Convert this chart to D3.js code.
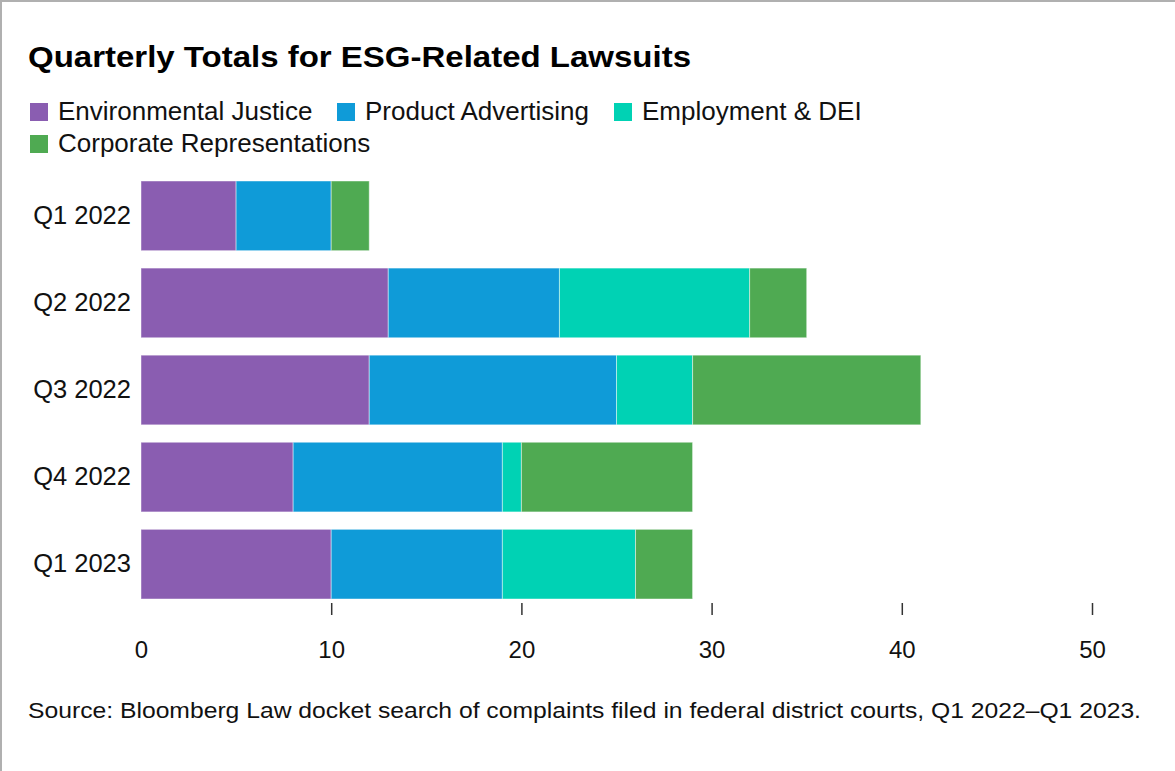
<!DOCTYPE html>
<html>
<head>
<meta charset="utf-8">
<script src="https://cdn.jsdelivr.net/npm/d3@7"></script>
<style>
  body { margin: 0; background: #fff; }
  svg { display: block; font-family: "Liberation Sans", Arial, sans-serif; }
</style>
</head>
<body>
<svg id="chart" width="1175" height="771"></svg>
<script>
// data
const quarters = ["Q1 2022", "Q2 2022", "Q3 2022", "Q4 2022", "Q1 2023"];
const seriesNames = ["Environmental Justice", "Product Advertising", "Employment & DEI", "Corporate Representations"];
const seriesColors = ["#8a5db1", "#0f9bd8", "#00d2b4", "#4faa52"];
const environmental = [5, 13, 12, 8, 10];
const product = [5, 9, 13, 11, 9];
const employment = [0, 10, 4, 1, 7];
const corporate = [2, 3, 12, 9, 3];
const xTicks = [0, 10, 20, 30, 40, 50];

const rows = quarters.map((q, i) => ({
	quarter: q,
	"Environmental Justice": environmental[i],
	"Product Advertising": product[i],
	"Employment & DEI": employment[i],
	"Corporate Representations": corporate[i]
}));

const svg = d3.select("#chart");

// frame: only top and left edges show
svg.append("line").attr("x1", 0).attr("y1", 1).attr("x2", 1175).attr("y2", 1)
	.style("stroke", "#b0b0b0").style("stroke-width", 2);
svg.append("line").attr("x1", 1).attr("y1", 0).attr("x2", 1).attr("y2", 771)
	.style("stroke", "#b0b0b0").style("stroke-width", 2);

svg.append("text")
	.attr("x", 28).attr("y", 67)
	.attr("textLength", 663).attr("lengthAdjust", "spacingAndGlyphs")
	.style("font-size", "30px").style("font-weight", "bold").style("fill", "#000")
	.text("Quarterly Totals for ESG-Related Lawsuits");

// legend
const legendPos = [[30, 120], [337, 120], [614, 120], [30, 152]];
const legend = svg.selectAll("g.legend").data(seriesNames).enter().append("g")
	.attr("class", "legend")
	.attr("transform", (d, i) => "translate(" + legendPos[i][0] + "," + legendPos[i][1] + ")");
legend.append("rect")
	.attr("x", 0).attr("y", -17).attr("width", 18).attr("height", 18)
	.style("fill", (d, i) => seriesColors[i]);
legend.append("text")
	.attr("x", 28).attr("y", 0)
	.style("font-size", "26px").style("fill", "#111")
	.text(d => d);

const x = d3.scaleLinear().domain([0, 50]).range([141, 1092]);
const y = d3.scaleBand().domain(quarters).range([181, 599]).paddingInner(0.2).paddingOuter(0);
const color = d3.scaleOrdinal().domain(seriesNames).range(seriesColors);

const stacked = d3.stack().keys(seriesNames)(rows);

svg.append("g").selectAll("g").data(stacked).enter().append("g")
	.style("fill", d => color(d.key))
	.selectAll("rect").data(d => d).enter().append("rect")
	.attr("x", d => x(d[0]))
	.attr("width", d => x(d[1]) - x(d[0]))
	.attr("y", d => y(d.data.quarter))
	.attr("height", y.bandwidth())
	.style("stroke", "#fff").style("stroke-opacity", 0.45).style("stroke-width", 1);

// category labels
const yAxis = svg.append("g").attr("transform", "translate(141,0)")
	.call(d3.axisLeft(y).tickSize(0).tickPadding(10));
yAxis.select(".domain").remove();
yAxis.selectAll("text").style("font-size", "25.5px").style("fill", "#111")
	.style("font-family", "'Liberation Sans', Arial, sans-serif");

// value axis
const xAxis = svg.append("g").attr("transform", "translate(0,603)")
	.call(d3.axisBottom(x).tickValues(xTicks).tickSize(12).tickPadding(26));
xAxis.select(".domain").remove();
xAxis.selectAll(".tick line")
	.style("stroke", "#333").style("stroke-width", 1.5)
	.style("display", d => d === 0 ? "none" : null);
xAxis.selectAll("text").style("font-size", "24px").style("fill", "#111")
	.style("font-family", "'Liberation Sans', Arial, sans-serif");

svg.append("text")
	.attr("x", 28).attr("y", 718)
	.attr("textLength", 1113).attr("lengthAdjust", "spacingAndGlyphs")
	.style("font-size", "22px").style("fill", "#111")
	.text("Source: Bloomberg Law docket search of complaints filed in federal district courts, Q1 2022\u2013Q1 2023.");
</script>
</body>
</html>
